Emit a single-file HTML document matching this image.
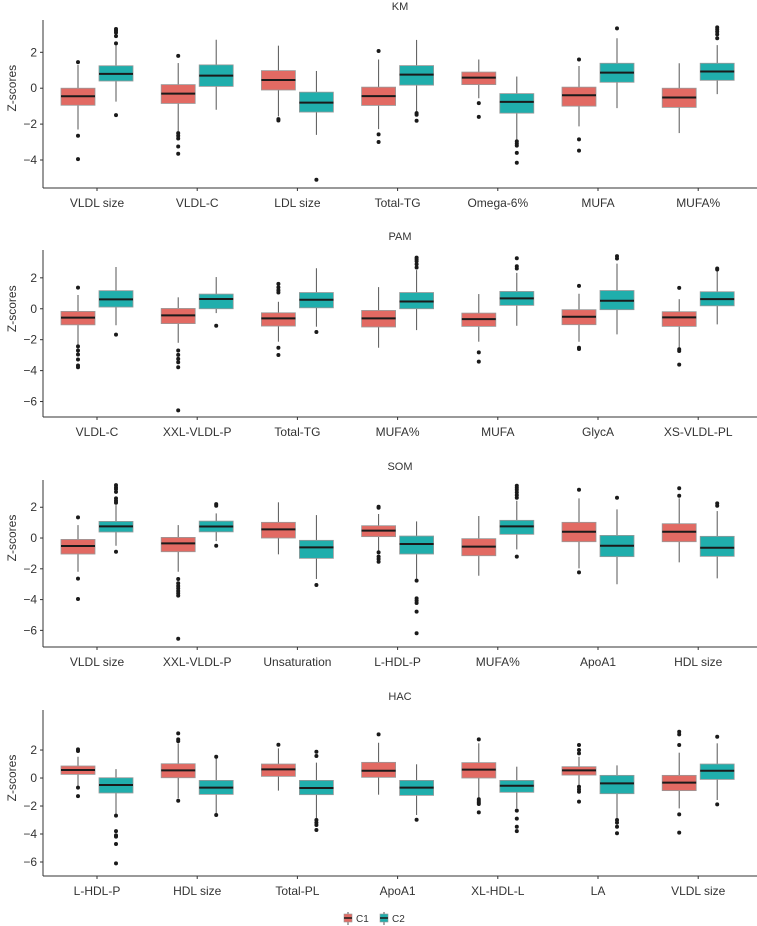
<!DOCTYPE html>
<html><head><meta charset="utf-8">
<style>
body{margin:0;background:#fff;}
svg{display:block;font-family:"Liberation Sans",sans-serif;}
</style></head>
<body>
<svg id="chart" width="757" height="926" viewBox="0 0 757 926"></svg>
<script>
// ---- data: [lowerWhisker, q1, median, q3, upperWhisker] ----
const kmCats = ["VLDL size","VLDL-C","LDL size","Total-TG","Omega-6%","MUFA","MUFA%"];
const kmC1 = [[-2.3,-0.95,-0.45,0.0,1.3],[-2.4,-0.85,-0.3,0.2,1.4],[-1.57,-0.1,0.46,0.98,2.37],[-2.28,-0.96,-0.44,0.06,1.6],[-0.56,0.2,0.59,0.9,1.6],[-2.13,-1.0,-0.39,0.06,1.24],[-2.5,-1.07,-0.52,0.0,1.39]];
const kmC1Out = [[1.45,-2.65,-3.95],[1.8,-2.5,-2.65,-2.8,-3.25,-3.65],[-1.72,-1.8],[2.07,-2.57,-3.0],[-0.83,-1.6],[1.6,-2.85,-3.48],[]];
const kmC2 = [[-0.75,0.4,0.8,1.25,2.4],[-1.2,0.1,0.7,1.3,2.7],[-2.6,-1.33,-0.8,-0.22,0.96],[-1.3,0.17,0.76,1.26,2.69],[-2.87,-1.39,-0.76,-0.3,0.65],[-1.11,0.33,0.87,1.39,2.78],[-0.33,0.44,0.93,1.39,2.4]];
const kmC2Out = [[2.5,2.9,3.1,3.2,3.3,-1.5],[],[-5.1],[-1.39,-1.48,-1.81],[-2.96,-3.09,-3.2,-3.6,-4.15],[3.33],[3.39,3.28,3.15,3.0,2.78]];

const pamCats = ["VLDL-C","XXL-VLDL-P","Total-TG","MUFA%","MUFA","GlycA","XS-VLDL-PL"];
const pamC1 = [[-2.37,-1.04,-0.57,-0.17,0.89],[-2.2,-0.96,-0.43,0.02,0.74],[-2.13,-1.12,-0.62,-0.26,0.45],[-2.52,-1.18,-0.62,-0.11,1.4],[-2.13,-1.14,-0.67,-0.28,0.95],[-2.13,-1.03,-0.52,-0.06,0.97],[-2.56,-1.14,-0.56,-0.19,0.62]];
const pamC1Out = [[1.37,-2.43,-2.7,-2.96,-3.28,-3.67,-3.78],[-2.7,-2.98,-3.24,-3.46,-3.78,-6.57],[1.61,1.38,1.2,1.05,-2.52,-2.99],[],[-2.82,-3.42],[1.48,-2.52,-2.6],[1.35,-2.62,-2.73,-3.61]];
const pamC2 = [[-1.07,0.11,0.61,1.17,2.7],[-0.28,0.0,0.63,0.95,2.05],[-1.16,0.06,0.58,1.05,2.62],[-1.38,0.0,0.47,1.05,2.5],[-1.1,0.22,0.67,1.12,2.32],[-1.66,-0.06,0.52,1.18,2.92],[-1.01,0.19,0.62,1.1,2.45]];
const pamC2Out = [[-1.67],[-1.1],[-1.5],[3.31,3.2,3.07,2.88,2.67],[3.27,2.75,2.6],[3.4,3.25],[2.6,2.54]];

const somCats = ["VLDL size","XXL-VLDL-P","Unsaturation","L-HDL-P","MUFA%","ApoA1","HDL size"];
const somC1 = [[-2.19,-1.04,-0.52,-0.09,0.84],[-2.19,-0.89,-0.35,0.04,0.84],[-1.06,0.0,0.56,1.02,2.32],[-0.89,0.09,0.48,0.8,1.56],[-2.45,-1.15,-0.56,-0.04,1.43],[-1.97,-0.24,0.41,1.02,2.58],[-1.58,-0.24,0.41,0.93,2.58]];
const somC1Out = [[1.34,-2.64,-3.96],[-2.66,-2.94,-3.12,-3.27,-3.44,-3.59,-3.74,-6.54],[],[2.03,1.97,-0.93,-1.21,-1.36,-1.54],[],[3.14,-2.23],[3.23,2.75]];
const somC2 = [[-0.5,0.39,0.76,1.08,2.14],[-0.2,0.4,0.75,1.1,1.6],[-2.66,-1.32,-0.61,-0.15,1.49],[-2.73,-1.04,-0.39,0.13,1.08],[-0.74,0.24,0.76,1.15,2.42],[-3.0,-1.21,-0.5,0.17,1.86],[-2.62,-1.19,-0.63,0.11,1.75]];
const somC2Out = [[3.44,3.29,3.18,3.0,2.58,2.42,2.29,-0.89],[2.1,2.2,-0.5],[-3.05],[-2.77,-3.92,-4.07,-4.22,-4.78,-6.19],[3.4,3.27,3.14,2.97,2.79,2.62,-1.21],[2.62],[2.25,2.1]];

const hacCats = ["L-HDL-P","HDL size","Total-PL","ApoA1","XL-HDL-L","LA","VLDL size"];
const hacC1 = [[-0.62,0.26,0.57,0.86,1.52],[-1.45,0.02,0.55,1.02,2.48],[-0.9,0.12,0.62,1.0,2.12],[-1.19,0.05,0.52,1.12,2.52],[-1.45,0.0,0.6,1.1,2.48],[-0.5,0.21,0.55,0.81,1.52],[-2.17,-0.9,-0.33,0.19,1.81]];
const hacC1Out = [[2.05,1.93,-0.69,-1.29],[3.19,2.76,2.64,-1.62],[2.38],[3.12],[2.76,-1.52,-1.64,-1.76,-1.86,-2.45],[2.36,2.0,1.76,-0.62,-0.81,-0.98,-1.69],[3.31,3.12,2.36,-2.6,-3.9]];
const hacC2 = [[-2.64,-1.07,-0.5,0.02,0.64],[-2.52,-1.17,-0.69,-0.17,1.4],[-2.88,-1.19,-0.71,-0.17,1.1],[-2.64,-1.24,-0.69,-0.17,0.98],[-2.17,-1.02,-0.55,-0.17,0.81],[-2.88,-1.12,-0.38,0.19,0.9],[-1.57,-0.1,0.52,1.0,2.48]];
const hacC2Out = [[-2.69,-3.79,-4.1,-4.19,-4.71,-6.1],[1.52,-2.64],[1.88,1.57,-3.0,-3.19,-3.36,-3.71],[-2.98],[-2.33,-2.9,-3.48,-3.79],[-3.0,-3.19,-3.48,-3.95],[2.95,-1.88]];

const kmTicks = [2,0,-2,-4];
const otherTicks = [2,0,-2,-4,-6];

const panelDefs = [
  {title:"KM", cats:kmCats, c1:kmC1, c1o:kmC1Out, c2:kmC2, c2o:kmC2Out, ticks:kmTicks, top:20, bottom:188, ymin:-5.56, ymax:3.8},
  {title:"PAM", cats:pamCats, c1:pamC1, c1o:pamC1Out, c2:pamC2, c2o:pamC2Out, ticks:otherTicks, top:250, bottom:417, ymin:-7.0, ymax:3.8},
  {title:"SOM", cats:somCats, c1:somC1, c1o:somC1Out, c2:somC2, c2o:somC2Out, ticks:otherTicks, top:480, bottom:647, ymin:-7.08, ymax:3.77},
  {title:"HAC", cats:hacCats, c1:hacC1, c1o:hacC1Out, c2:hacC2, c2o:hacC2Out, ticks:otherTicks, top:710, bottom:876, ymin:-7.0, ymax:4.86}
];

const NS = "http://www.w3.org/2000/svg";
const svg = document.getElementById("chart");
const LEFT = 43, RIGHT = 757, X0 = 97, DX = 100.2, OFF = 19, BW = 34;
const FILL1 = "#E26A63", FILL2 = "#20AEAC";
function mk(tag, attrs, parent){
  const e = document.createElementNS(NS, tag);
  for (const k in attrs) e.setAttribute(k, attrs[k]);
  (parent||svg).appendChild(e);
  return e;
}
function xScale(i){ return X0 + DX*i; }

panelDefs.forEach((p, pi) => {
  const g = mk("g", {});
  
  
  const y = v => p.bottom - (v - p.ymin) / (p.ymax - p.ymin) * (p.bottom - p.top);

  const t = mk("text", {x:400, y:p.top-10, "text-anchor":"middle", "font-size":"11", fill:"#333"}, g);
  t.textContent = p.title;
  
  

  const yt = mk("text", {x:0, y:0, transform:`translate(16,${y(0)}) rotate(-90)`, "text-anchor":"middle", "font-size":"12", fill:"#333"}, g);
  yt.textContent = "Z-scores";
  
  

  const ya = mk("line", {x1:LEFT, x2:LEFT, y1:p.top, y2:p.bottom, stroke:"#333", "stroke-width":1}, g);
  
  
  const xa = mk("line", {x1:LEFT, x2:RIGHT, y1:p.bottom, y2:p.bottom, stroke:"#333", "stroke-width":1}, g);
  
  

  p.ticks.forEach(tv => {
    const tk = mk("line", {x1:LEFT-3, x2:LEFT, y1:y(tv), y2:y(tv), stroke:"#333"}, g);
    
    
    const tl = mk("text", {x:LEFT-6, y:y(tv)+4, "text-anchor":"end", "font-size":"12", fill:"#333"}, g);
    tl.textContent = tv < 0 ? "\u2212" + Math.abs(tv) : String(tv);
    
    
  });

  p.cats.forEach((c, i) => {
    const cx = xScale(i);
    const tk = mk("line", {x1:cx, x2:cx, y1:p.bottom, y2:p.bottom+3, stroke:"#333"}, g);
    
    
    const lb = mk("text", {x:cx, y:p.bottom+19, "text-anchor":"middle", "font-size":"12", fill:"#333"}, g);
    lb.textContent = c;
    
    

    [[p.c1[i], p.c1o[i], cx-OFF, FILL1, "c1"], [p.c2[i], p.c2o[i], cx+OFF, FILL2, "c2"]].forEach(([s, outs, bx, fill, nm]) => {
      const bg = mk("g", {}, g);
      
      
      const w1 = mk("line", {x1:bx, x2:bx, y1:y(s[0]), y2:y(s[1]), stroke:"#555", "stroke-width":1}, bg);
      
      
      const w2 = mk("line", {x1:bx, x2:bx, y1:y(s[3]), y2:y(s[4]), stroke:"#555", "stroke-width":1}, bg);
      
      
      const r = mk("rect", {x:bx-BW/2, y:y(s[3]), width:BW, height:y(s[1])-y(s[3]), fill:fill, stroke:"#999", "stroke-width":0.8}, bg);
      
      
      const md = mk("line", {x1:bx-BW/2, x2:bx+BW/2, y1:y(s[2]), y2:y(s[2]), stroke:"#1a1a1a", "stroke-width":2}, bg);
      
      
      outs.forEach(o => {
        const d = mk("circle", {cx:bx, cy:y(o), r:2, fill:"#1a1a1a"}, bg);
        
        
      });
    });
  });
});

// legend
const lg = mk("g", {});


[[348, FILL1, "C1"], [384, FILL2, "C2"]].forEach(([lx, f, label]) => {
  const eg = mk("g", {}, lg);
  
  
  mk("line", {x1:lx, x2:lx, y1:912, y2:925, stroke:"#555"}, eg);
  mk("rect", {x:lx-4, y:914, width:8, height:8, fill:f, stroke:"#999", "stroke-width":0.6}, eg);
  mk("line", {x1:lx-4, x2:lx+4, y1:918, y2:918, stroke:"#1a1a1a", "stroke-width":1.5}, eg);
  const tx = mk("text", {x:lx+8, y:922, "font-size":"10", fill:"#333"}, eg);
  tx.textContent = label;
  
  
});
</script>
</body></html>
